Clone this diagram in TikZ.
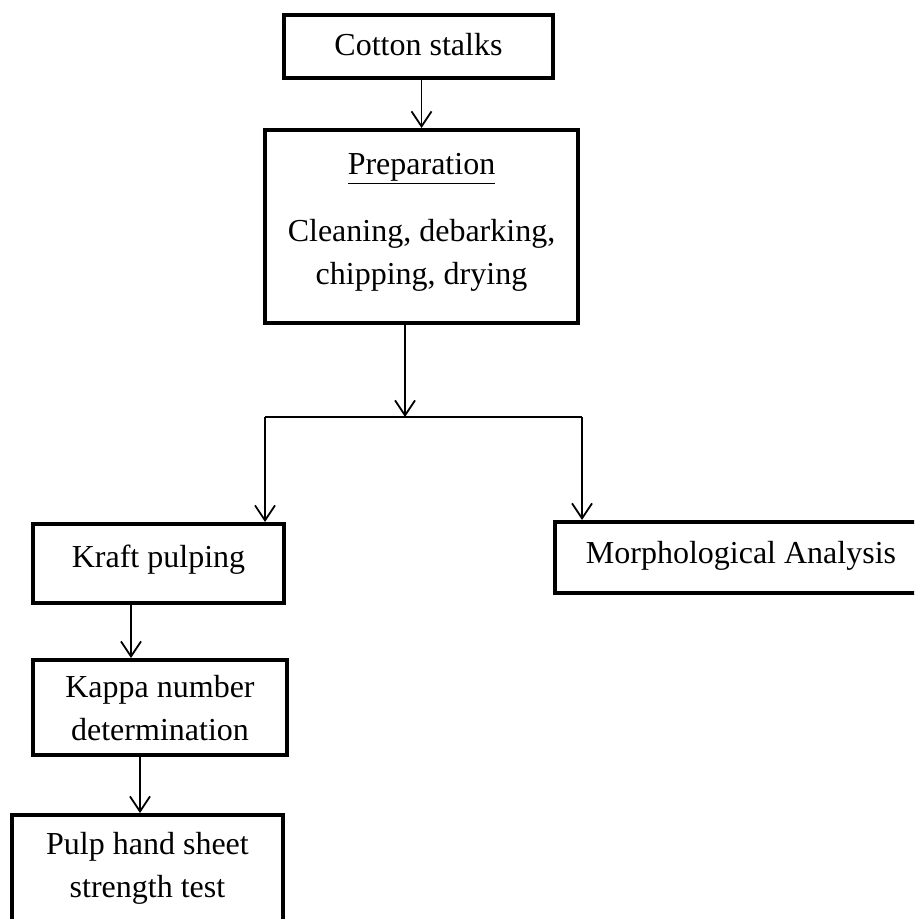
\documentclass[tikz,border=0pt]{standalone}
\usepackage{fontspec}
\setmainfont{Liberation Serif}
\usetikzlibrary{positioning,arrows.meta,calc}
\tikzset{>={Straight Barb[length=7.5pt,width=10pt]}}
\tikzset{stepbox/.style={draw,line width=2pt,inner sep=0pt,
    font=\fontsize{16}{21.5}\selectfont}}
% lift the text of a box without moving the box
\newcommand\liftup[2]{\raisebox{#1}[\height][\depth]{\begin{tabular}{@{}c@{}}#2\end{tabular}}}

\begin{document}
\begin{tikzpicture}[x=0.5pt,y=-0.5pt,line width=0.9pt]
  \useasboundingbox (0,0) rectangle (914,919);
  \clip (0,0) rectangle (914,919);
  \node[stepbox,minimum width=134.5pt,minimum height=31.5pt] (stalks) at (418.5,46.5) {\liftup{0pt}{Cotton stalks}};
  \node[stepbox,minimum width=156.5pt,minimum height=96.5pt] (prep) at (421.5,226.5)
       {\liftup{3pt}{\underline{Preparation}\\[12pt]Cleaning, debarking,\\chipping, drying}};
  \node[stepbox,minimum width=125.5pt,minimum height=39.5pt] (kraft) at (158.5,563.5) {\liftup{2.5pt}{Kraft pulping}};
  \node[stepbox,minimum width=186pt,minimum height=35.5pt] (morph) at (741,557.5) {\liftup{1.5pt}{Morphological Analysis}};
  \node[stepbox,minimum width=127pt,minimum height=47.5pt] (kappa) at (160,707.5) {\liftup{-1.5pt}{Kappa number\\determination}};
  \node[stepbox,minimum width=135.5pt,minimum height=57.5pt] (pulp) at (147.5,872.5) {\liftup{2.5pt}{Pulp hand sheet\\strength test}};
  % split point under preparation
  \coordinate (split) at (405,417);
  \coordinate (lt) at (265,417);
  \coordinate (rt) at (582,417);
  \draw[->] (prep.north |- stalks.south) -- (prep.north);
  \draw[->] (split |- prep.south) -- (split);
  \draw (lt) -- (rt);
  \draw[->] (lt) -- (lt |- kraft.north);
  \draw[->] (rt) -- (rt |- morph.north);
  \draw[->] ([xshift=-13.75pt]kraft.south) -- ([xshift=-13.75pt]kraft.south |- kappa.north);
  \draw[->] ([xshift=-10pt]kappa.south) -- ([xshift=-10pt]kappa.south |- pulp.north);
\end{tikzpicture}
\end{document}
